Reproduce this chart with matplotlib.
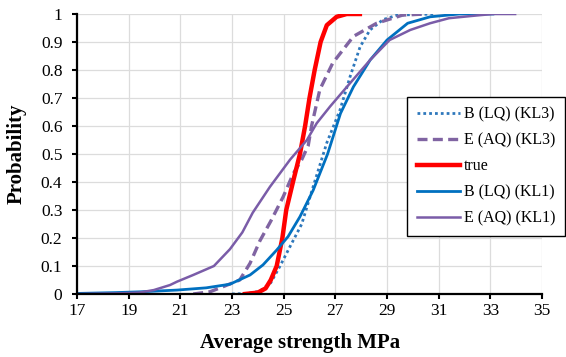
import matplotlib
matplotlib.use("Agg")
import matplotlib.pyplot as plt

# B (LQ) (KL3) - dotted blue
b_kl3_x = [23.0, 23.6, 24.08, 24.5, 24.86, 25.25, 25.7, 26.14, 26.67, 27.18, 27.57, 27.96, 28.34, 28.85, 29.4, 30.8]
b_kl3_y = [0.0, 0.002, 0.01, 0.04, 0.1, 0.17, 0.25, 0.383, 0.54, 0.657, 0.776, 0.883, 0.943, 0.98, 0.996, 1.0]

# E (AQ) (KL3) - dashed purple
e_kl3_x = [21.5, 22.15, 22.65, 23.3, 23.7, 24.08, 24.5, 24.98, 25.37, 25.7, 25.95, 26.08, 26.4, 26.9, 27.7, 28.6, 29.6, 30.5]
e_kl3_y = [0.0, 0.008, 0.026, 0.05, 0.11, 0.19, 0.26, 0.347, 0.43, 0.48, 0.53, 0.6, 0.73, 0.825, 0.92, 0.967, 0.996, 1.0]

# true - red
true_x = [23.5, 24.0, 24.3, 24.5, 24.73, 24.95, 25.1, 25.36, 25.63, 25.83, 26.0, 26.2, 26.43, 26.67, 27.05, 27.44, 27.95]
true_y = [0.0, 0.005, 0.02, 0.05, 0.1, 0.2, 0.3, 0.4, 0.5, 0.6, 0.7, 0.8, 0.9, 0.96, 0.99, 1.0, 1.0]

# B (LQ) (KL1) - solid blue
b_kl1_x = [17.0, 18.5, 19.5, 20.87, 22.0, 22.92, 23.7, 24.2, 24.73, 25.17, 25.63, 26.14, 26.7, 27.2, 27.7, 28.35, 29.0, 29.8, 30.67, 31.8, 33.1]
b_kl1_y = [0.002, 0.005, 0.008, 0.014, 0.022, 0.035, 0.068, 0.104, 0.157, 0.205, 0.276, 0.37, 0.5, 0.645, 0.74, 0.836, 0.907, 0.967, 0.99, 1.0, 1.0]

# E (AQ) (KL1) - solid purple
e_kl1_x = [17.0, 18.5, 19.4, 19.97, 20.6, 20.87, 21.5, 22.3, 22.92, 23.4, 23.8, 24.47, 25.25, 25.9, 26.28, 26.8, 27.57, 28.35, 29.1, 29.9, 30.67, 31.4, 32.5, 33.1, 33.96]
e_kl1_y = [0.0, 0.002, 0.005, 0.014, 0.032, 0.044, 0.068, 0.1, 0.16, 0.22, 0.29, 0.383, 0.48, 0.55, 0.61, 0.67, 0.753, 0.836, 0.907, 0.943, 0.967, 0.985, 0.995, 1.0, 1.0]

x_ticks = [17, 19, 21, 23, 25, 27, 29, 31, 33, 35]
y_ticks = [0, 0.1, 0.2, 0.3, 0.4, 0.5, 0.6, 0.7, 0.8, 0.9, 1]
y_tick_labels = ["0", "0.1", "0.2", "0.3", "0.4", "0.5", "0.6", "0.7", "0.8", "0.9", "1"]

plt.rcParams["font.family"] = ["Liberation Serif", "DejaVu Serif"]

fig = plt.figure(figsize=(5.66, 3.57), dpi=100)
ax = fig.add_axes([77 / 566, 1 - 294 / 357, 465 / 566, 280 / 357])

blue = "#0070C0"
purple = "#7A5CA8"

ax.plot(b_kl3_x, b_kl3_y, color="#2E78BC", lw=2.0, linestyle=(0, (1, 1.1)), label="B (LQ) (KL3)")
ax.plot(e_kl3_x, e_kl3_y, color="#8064A2", lw=2.4, linestyle=(0, (3, 1.6)), label="E (AQ) (KL3)")
ax.plot(true_x, true_y, color="#FF0000", lw=3.2, label="true")
ax.plot(b_kl1_x, b_kl1_y, color=blue, lw=2.0, label="B (LQ) (KL1)")
ax.plot(e_kl1_x, e_kl1_y, color=purple, lw=1.8, label="E (AQ) (KL1)")

ax.set_xlim(17, 35)
ax.set_ylim(0, 1)
ax.set_xticks(x_ticks)
ax.set_yticks(y_ticks)
ax.set_yticklabels(y_tick_labels)
ax.grid(True, color="#DCDCDC", lw=0.9)
ax.set_axisbelow(True)

for s in ["top", "right"]:
    ax.spines[s].set_visible(False)
for s in ["left", "bottom"]:
    ax.spines[s].set_linewidth(1.6)
    ax.spines[s].set_color("black")

ax.tick_params(axis="both", direction="out", length=3.5, width=1.5, labelsize=12.5)
ax.tick_params(axis="y", pad=7)
ax.tick_params(axis="x", pad=3)

ax.set_xlabel("Average strength MPa", fontsize=15, fontweight="bold")
ax.xaxis.set_label_coords((300 - 77) / 465, -0.14)
ax.set_ylabel("Probability", fontsize=15, fontweight="bold")
ax.yaxis.set_label_coords(-0.108, 0.5)

leg = ax.legend(loc="upper right", bbox_to_anchor=(565 / 566, 1 - 97 / 357),
                bbox_transform=fig.transFigure, borderaxespad=0, fontsize=11.5,
                frameon=True, fancybox=False, edgecolor="black", framealpha=1,
                handlelength=2.7, handletextpad=0.25, labelspacing=0.62,
                borderpad=0.6)
leg.get_frame().set_linewidth(1.0)

fig.savefig("out.png", dpi=100)
